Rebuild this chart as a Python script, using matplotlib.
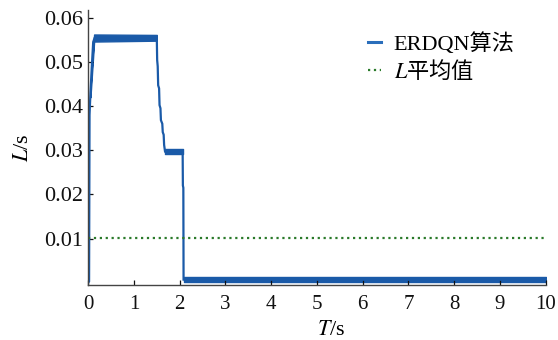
import matplotlib
matplotlib.use("Agg")
import matplotlib.pyplot as plt

# main ERDQN trace (centre line)
t_main = [0.00, 0.02, 0.03, 0.05, 0.08, 0.11, 0.14, 1.50, 1.508, 1.52, 1.53, 1.55, 1.56,
          1.58, 1.59, 1.62, 1.63, 1.65, 1.66, 1.68, 2.065, 2.07, 2.08, 2.085, 10.0]
L_main = [0.0000, 0.0003, 0.0380, 0.0430, 0.0490, 0.0545, 0.0554, 0.0554, 0.0504, 0.0490,
          0.0447, 0.0440, 0.0402, 0.0395, 0.0368, 0.0360, 0.0341, 0.0335, 0.0312, 0.0297,
          0.0297, 0.0220, 0.0215, 0.0007, 0.0007]

# thick (oscillating) parts of the trace, as low / high envelopes
band1_t = [0.05, 0.13, 1.50]
band1_lo = [0.0420, 0.0546, 0.0548]
band1_hi = [0.0440, 0.0562, 0.0561]
band2_t = [1.68, 2.065]
band2_lo = [0.0291, 0.0291]
band2_hi = [0.0303, 0.0303]
band3_t = [2.085, 10.0]
band3_lo = [0.0002, 0.0002]
band3_hi = [0.0012, 0.0012]

L_mean = 0.0102
xticks = list(range(0, 11))
yticks = [0.01, 0.02, 0.03, 0.04, 0.05, 0.06]

plt.rcParams["font.family"] = ["Liberation Serif", "Noto Sans CJK SC"]
plt.rcParams["mathtext.fontset"] = "stix"

BLUE = "#1a5aa8"
GREEN = "#2a7a2a"

fig = plt.figure(figsize=(5.58, 3.40), dpi=100)
ax = fig.add_axes([0.158, 0.162, 0.820, 0.808])

ax.plot(t_main, L_main, color=BLUE, lw=1.6, solid_joinstyle="miter")
for bt, lo, hi in [(band1_t, band1_lo, band1_hi), (band2_t, band2_lo, band2_hi),
                   (band3_t, band3_lo, band3_hi)]:
    ax.fill_between(bt, lo, hi, color=BLUE, lw=1.0, edgecolor=BLUE)

ax.plot([0, 10], [L_mean, L_mean], ":", color=GREEN, lw=1.6)

# legend proxies
h1, = ax.plot([], [], color="#2a6ebb", lw=2.2)
h2, = ax.plot([], [], ":", color=GREEN, lw=1.6)
leg = ax.legend([h1, h2], ["ERDQN算法", "$L$平均值"], frameon=False, fontsize=16,
                loc="upper left", bbox_to_anchor=(0.568, 0.99), handlelength=0.6,
                handletextpad=0.55, labelspacing=0.2)
# mathtext draws the plain part with the text's own font, so give that entry the CJK font
leg.get_texts()[1].set_fontfamily("Noto Sans CJK SC")

ax.set_xlim(0, 10)
ax.set_ylim(-0.0005, 0.0617)
ax.set_xticks(xticks)
ax.set_yticks(yticks)
ax.set_yticklabels([f"{v:.2f}" for v in yticks])
ax.tick_params(direction="in", length=3.5, width=0.9, labelsize=16, colors="#111111")
ax.tick_params(axis="x", pad=7, labelsize=15)
ax.tick_params(axis="y", pad=3.5)
for s in ["top", "right"]:
    ax.spines[s].set_visible(False)
for s in ["left", "bottom"]:
    ax.spines[s].set_color("#444444")
    ax.spines[s].set_linewidth(1.0)

ax.set_xlabel("$T$/s", fontsize=16)
ax.xaxis.set_label_coords(0.531, -0.165)
ax.xaxis.label.set_va("center")
ax.set_ylabel("$L$/s", fontsize=16, labelpad=8)

fig.savefig("out.png", dpi=100)
